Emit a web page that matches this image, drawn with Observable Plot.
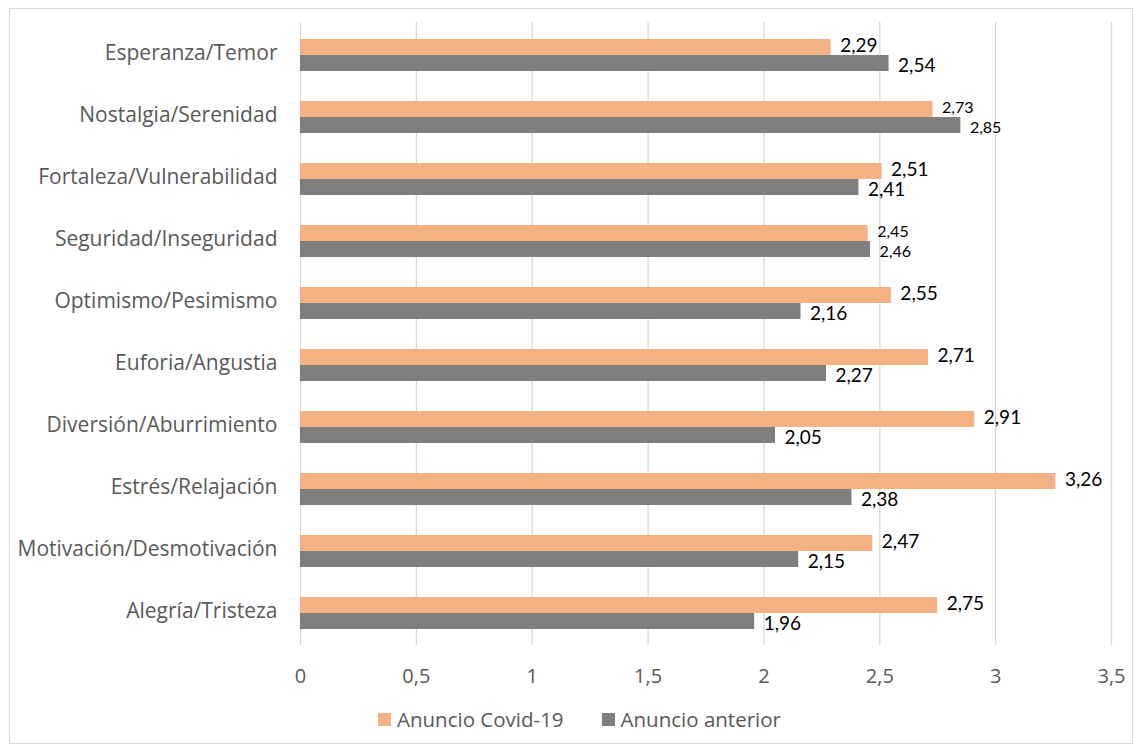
<!DOCTYPE html>
<html>
<head>
<meta charset="utf-8">
<script src="https://cdn.jsdelivr.net/npm/d3@7"></script>
<script src="https://cdn.jsdelivr.net/npm/@observablehq/plot@0.6"></script>
<style>
  html, body { margin: 0; padding: 0; background: #fff; }
  #wrap { position: relative; width: 1135px; height: 749px; font-family: "Open Sans", sans-serif; }
  #border { position: absolute; left: 9px; top: 8px; width: 1124px; height: 736px; border: 1px solid #d9d9d9; box-sizing: border-box; }
  #chart { position: absolute; left: 0; top: 0; }
  #legend { position: absolute; left: 378px; top: 705px; height: 28px; display: flex; align-items: center; font-size: 20.5px; color: #595959; }
  .sw { display: inline-block; width: 13px; height: 13px; margin-right: 6px; }
  .item { display: flex; align-items: center; margin-right: 38px; }
</style>
</head>
<body>
<div id="wrap">
  <div id="border"></div>
  <div id="chart"></div>
  <div id="legend"></div>
</div>
<script>
const categories = [
  "Esperanza/Temor",
  "Nostalgia/Serenidad",
  "Fortaleza/Vulnerabilidad",
  "Seguridad/Inseguridad",
  "Optimismo/Pesimismo",
  "Euforia/Angustia",
  "Diversión/Aburrimiento",
  "Estrés/Relajación",
  "Motivación/Desmotivación",
  "Alegría/Tristeza"
];
const series = ["Anuncio Covid-19", "Anuncio anterior"];
const covid = [2.29, 2.73, 2.51, 2.45, 2.55, 2.71, 2.91, 3.26, 2.47, 2.75];
const anterior = [2.54, 2.85, 2.41, 2.46, 2.16, 2.27, 2.05, 2.38, 2.15, 1.96];
const xTicks = [0, 0.5, 1, 1.5, 2, 2.5, 3, 3.5];
const xTickLabels = ["0", "0,5", "1", "1,5", "2", "2,5", "3", "3,5"];
const colors = ["#F4B183", "#7F7F7F"];
const smallLabelCategories = ["Nostalgia/Serenidad", "Seguridad/Inseguridad"];

const fmt = v => d3.format(".2f")(v).replace(".", ",");
const axisFont = "'Open Sans', sans-serif";
const labelFont = "Lato, 'Open Sans', sans-serif";

const W = 1135, H = 700, mT = 22, mB = 55, mL = 300, mR = 24;
const padIn = 0.486, padOut = 0.243;
const step = (H - mT - mB) / (categories.length - padIn + 2 * padOut);
const bw = step * (1 - padIn);
const half = bw / 2;

const covidData = categories.map((c, i) => ({category: c, value: covid[i]}));
const antData = categories.map((c, i) => ({category: c, value: anterior[i]}));
const labelSize = d => smallLabelCategories.includes(d.category) ? 16 : 19;

const chart = Plot.plot({
  width: W,
  height: H,
  marginLeft: mL,
  marginRight: mR,
  marginTop: mT,
  marginBottom: mB,
  style: {fontFamily: axisFont, background: "transparent"},
  x: {domain: [0, 3.5]},
  y: {domain: categories, paddingInner: padIn, paddingOuter: padOut},
  marks: [
    Plot.gridX({ticks: xTicks, stroke: "#d9d9d9", strokeOpacity: 1, strokeWidth: 1.3}),
    Plot.barX(covidData, {x: "value", y: "category", fill: colors[0], insetBottom: half}),
    Plot.barX(antData, {x: "value", y: "category", fill: colors[1], insetTop: half}),
    Plot.text(covidData, {
      x: "value", y: "category", dy: -half / 2 - 2,
      text: d => fmt(d.value), textAnchor: "start", dx: 9,
      fontSize: labelSize, fill: "#000", fontFamily: labelFont
    }),
    Plot.text(antData, {
      x: "value", y: "category", dy: half / 2 + 2,
      text: d => fmt(d.value), textAnchor: "start", dx: 9,
      fontSize: labelSize, fill: "#000", fontFamily: labelFont
    }),
    Plot.axisY({tickSize: 0, tickPadding: 23, fontSize: 21, dy: -2, label: null, fill: "#595959"}),
    Plot.axisX({ticks: xTicks, tickFormat: (d, i) => xTickLabels[i], tickSize: 0, tickPadding: 23, fontSize: 20, label: null, fill: "#595959"})
  ]
});
document.getElementById("chart").appendChild(chart);

const legend = document.getElementById("legend");
series.forEach((s, i) => {
  const item = document.createElement("div");
  item.className = "item";
  const sw = document.createElement("span");
  sw.className = "sw";
  sw.style.background = colors[i];
  item.appendChild(sw);
  item.appendChild(document.createTextNode(s));
  legend.appendChild(item);
});
</script>
</body>
</html>
